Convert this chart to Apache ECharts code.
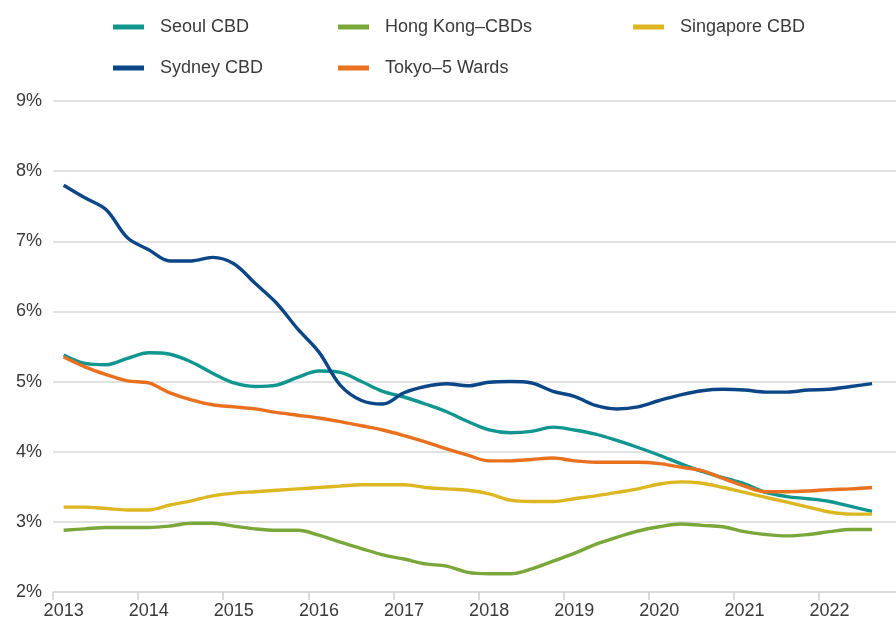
<!DOCTYPE html>
<html>
<head>
<meta charset="utf-8">
<script src="https://cdn.jsdelivr.net/npm/echarts@6/dist/echarts.min.js"></script>
<style>
  html, body { margin: 0; padding: 0; background: #fff; }
  #chart { width: 896px; height: 628px; }
</style>
</head>
<body>
<div id="chart"></div>
<script>
// quarterly, 2013 Q1 .. 2022 Q4 (last quarter has no data yet)
const years = ['2013', '2014', '2015', '2016', '2017', '2018', '2019', '2020', '2021', '2022'];
const categories = [];
years.forEach(y => ['Q1', 'Q2', 'Q3', 'Q4'].forEach(q => categories.push(y + ' ' + q)));

const seoul = [5.38, 5.26, 5.24, 5.33, 5.41, 5.39, 5.28, 5.12, 4.98, 4.93, 4.95, 5.06, 5.15, 5.13, 5.00, 4.86,
  4.78, 4.68, 4.57, 4.43, 4.31, 4.27, 4.29, 4.35, 4.31, 4.25, 4.16, 4.06, 3.95, 3.83, 3.72, 3.63,
  3.54, 3.42, 3.36, 3.33, 3.29, 3.22, 3.15, null];
const hongKong = [2.88, 2.90, 2.92, 2.92, 2.92, 2.94, 2.98, 2.98, 2.94, 2.90, 2.88, 2.88, 2.81, 2.71, 2.62, 2.53,
  2.47, 2.40, 2.37, 2.28, 2.26, 2.26, 2.33, 2.44, 2.55, 2.68, 2.78, 2.87, 2.93, 2.97, 2.95, 2.93,
  2.86, 2.82, 2.80, 2.82, 2.86, 2.89, 2.89, null];
const singapore = [3.21, 3.21, 3.19, 3.17, 3.17, 3.24, 3.30, 3.37, 3.41, 3.43, 3.45, 3.47, 3.49, 3.51, 3.53, 3.53,
  3.53, 3.49, 3.47, 3.45, 3.40, 3.31, 3.29, 3.29, 3.33, 3.37, 3.42, 3.47, 3.54, 3.57, 3.55, 3.49,
  3.42, 3.35, 3.28, 3.21, 3.14, 3.11, 3.11, null];
const sydney = [7.80, 7.62, 7.45, 7.05, 6.88, 6.72, 6.72, 6.77, 6.68, 6.40, 6.12, 5.75, 5.42, 4.95, 4.73, 4.68,
  4.84, 4.93, 4.97, 4.94, 4.99, 5.00, 4.98, 4.86, 4.79, 4.66, 4.61, 4.64, 4.73, 4.81, 4.87, 4.89,
  4.88, 4.85, 4.85, 4.88, 4.89, 4.93, 4.97, null];
const tokyo = [5.35, 5.21, 5.10, 5.01, 4.98, 4.84, 4.74, 4.67, 4.64, 4.61, 4.56, 4.52, 4.48, 4.43, 4.37, 4.31,
  4.23, 4.14, 4.04, 3.95, 3.87, 3.87, 3.89, 3.91, 3.87, 3.85, 3.85, 3.85, 3.83, 3.78, 3.73, 3.62,
  3.51, 3.43, 3.43, 3.44, 3.46, 3.47, 3.49, null];

const yTicks = [2, 3, 4, 5, 6, 7, 8, 9];

const font = '"Liberation Sans", Arial, sans-serif';
const textColor = '#3a3a3a';

const myChart = echarts.init(document.getElementById('chart'));

function legendAt(name, left, top) {
  return {
    data: [name],
    left: left,
    top: top,
    padding: 0,
    icon: 'rect',
    itemWidth: 31,
    itemHeight: 5,
    selectedMode: false,
    textStyle: { fontFamily: font, fontSize: 18, color: textColor, padding: [0, 0, 0, 11] }
  };
}

function line(name, data, color) {
  return {
    name: name,
    type: 'line',
    data: data,
    smooth: 0.35,
    symbol: 'none',
    lineStyle: { width: 3.4, color: color },
    itemStyle: { color: color }
  };
}

myChart.setOption({
  animation: false,
  legend: [
    legendAt('Seoul CBD', 113, 18),
    legendAt('Hong Kong–CBDs', 338, 18),
    legendAt('Singapore CBD', 633, 18),
    legendAt('Sydney CBD', 113, 59),
    legendAt('Tokyo–5 Wards', 338, 59)
  ],
  grid: {
    left: 53,
    right: -8,
    top: 101,
    bottom: 36,
    containLabel: false,
    outerBoundsMode: 'none'
  },
  xAxis: {
    type: 'category',
    data: categories,
    boundaryGap: true,
    axisLine: { show: true, lineStyle: { color: '#d9d9d9', width: 1.5 } },
    axisTick: { show: true, interval: 3, length: 8, lineStyle: { color: '#d0d0d0', width: 1.5 } },
    axisLabel: {
      interval: 3,
      margin: 10,
      fontFamily: font,
      fontSize: 18,
      color: textColor,
      formatter: v => v.split(' ')[0]
    },
    splitLine: { show: false }
  },
  yAxis: {
    type: 'value',
    min: yTicks[0],
    max: yTicks[yTicks.length - 1],
    interval: 1,
    axisLine: { show: false },
    axisTick: { show: false },
    axisLabel: {
      margin: 11,
      fontFamily: font,
      fontSize: 18,
      color: textColor,
      formatter: '{value}%'
    },
    splitLine: { lineStyle: { color: '#d9d9d9', width: 1.5 } }
  },
  series: [
    line('Seoul CBD', seoul, '#10968f'),
    line('Hong Kong–CBDs', hongKong, '#79a73a'),
    line('Singapore CBD', singapore, '#dcb722'),
    line('Tokyo–5 Wards', tokyo, '#e8701f'),
    line('Sydney CBD', sydney, '#0b4687')
  ]
});
</script>
</body>
</html>
